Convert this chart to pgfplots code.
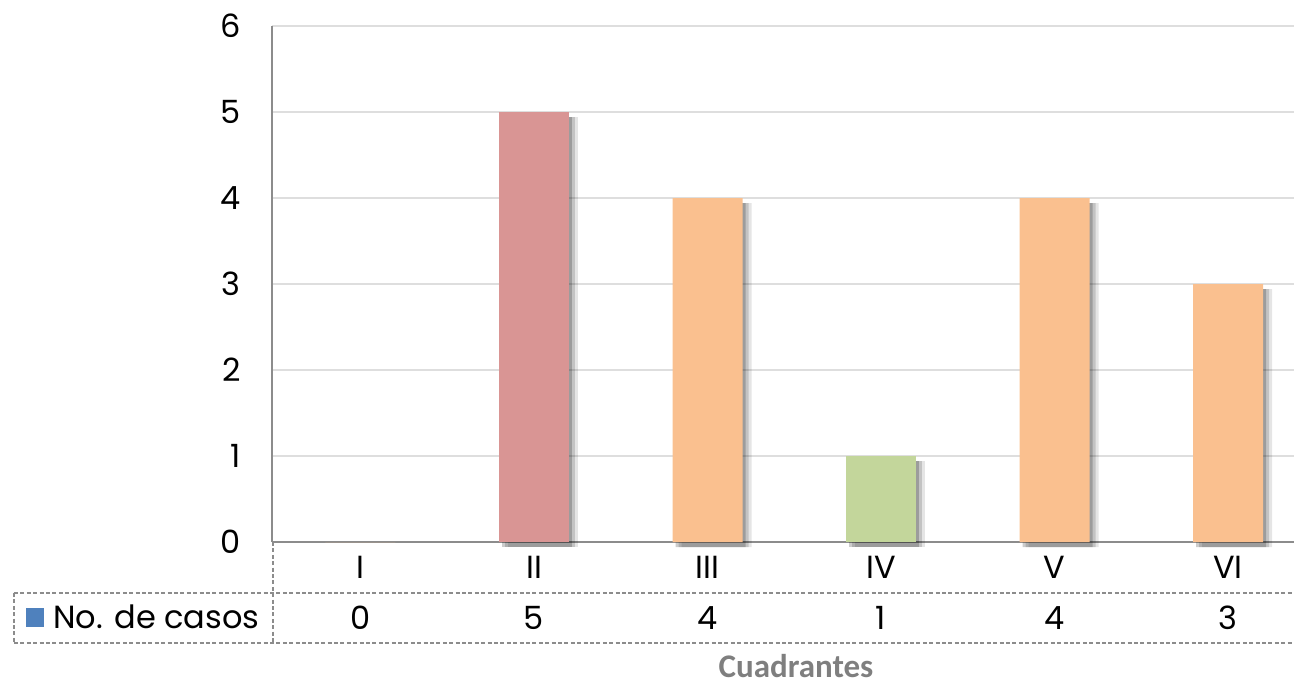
\documentclass[border=0pt]{standalone}
\usepackage{pgfplots}
\pgfplotsset{compat=1.18}
\usepackage{fontspec}
\setmainfont{Poppins}
\newfontfamily\calibri{Carlito}
\usetikzlibrary{shadows}
\definecolor{barpink}{HTML}{D99594}
\definecolor{barorange}{HTML}{FAC08F}
\definecolor{bargreen}{HTML}{C3D69B}
\definecolor{legblue}{HTML}{4F81BD}
\definecolor{gridc}{HTML}{DEDEDE}
\definecolor{axc}{HTML}{8C8C8C}
\definecolor{titc}{HTML}{7F7F7F}
\begin{document}
\begin{tikzpicture}
\begin{axis}[
  scale only axis, width=511pt, height=258pt,
  xmin=-0.51, xmax=5.38, ymin=0, ymax=6,
  ytick={0,1,2,3,4,5,6}, xtick={0,1,2,3,4,5},
  xticklabels={{I\\[6.5pt]0},{II\\[6.5pt]5},{III\\[6.5pt]4},{IV\\[6.5pt]1},{V\\[6.5pt]4},{VI\\[6.5pt]3}},
  xticklabel style={align=center, anchor=center, yshift=-25.25pt, font=\fontsize{16}{19}\selectfont},
  yticklabel style={anchor=east, inner sep=0pt, xshift=-15.5pt, font=\fontsize{16}{19}\selectfont},
  /pgf/number format/assume math mode=true,
  major tick length=0pt,
  axis y line*=left, axis x line*=bottom,
  y axis line style={-, draw=axc, line width=1pt},
  x axis line style={-, draw=axc, line width=1.3pt},
  ymajorgrids, grid style={gridc, line width=1pt},
  clip=false,
  ybar, bar width=35pt,
  every axis plot/.append style={bar shift=0pt, draw=none},
  shad/.style={
     drop shadow={shadow xshift=4.5pt, shadow yshift=-2.5pt, opacity=0.10, fill=black},
     drop shadow={shadow xshift=3pt, shadow yshift=-2.5pt, opacity=0.15, fill=black},
     drop shadow={shadow xshift=1.5pt, shadow yshift=-2.5pt, opacity=0.2, fill=black}},
]
\addplot[fill=barorange] coordinates {(0,0)};
\addplot[fill=barpink, shad] coordinates {(1,5)};
\addplot[fill=barorange, shad] coordinates {(2,4) (4,4) (5,3)};
\addplot[fill=bargreen, shad] coordinates {(3,1)};
\end{axis}
\begin{scope}[shift={(current axis.south west)}]
  \draw[axc, line width=0.75pt, dash pattern=on 2pt off 1.2pt]
     (-129pt,-25.5pt) -- (511pt,-25.5pt)
     (-129pt,-50.5pt) -- (511pt,-50.5pt)
     (-129pt,-25.5pt) -- (-129pt,-50.5pt)
     (0.5pt,0pt) -- (0.5pt,-50.5pt);
  \fill[legblue] (-123pt,-33pt) rectangle (-114pt,-42.5pt);
  \node[anchor=west, inner sep=0pt, font=\fontsize{16}{19}\selectfont] at (-109.5pt,-37.5pt) {No. de casos};
  \node[inner sep=0pt, anchor=base, font=\calibri\bfseries\fontsize{16.5}{19}\selectfont, text=titc] at (262pt,-67.5pt) {Cuadrantes};
  \pgfresetboundingbox
  \path[use as bounding box] (-136pt,-71.5pt) rectangle (511pt,271pt);
\end{scope}
\end{tikzpicture}
\end{document}
